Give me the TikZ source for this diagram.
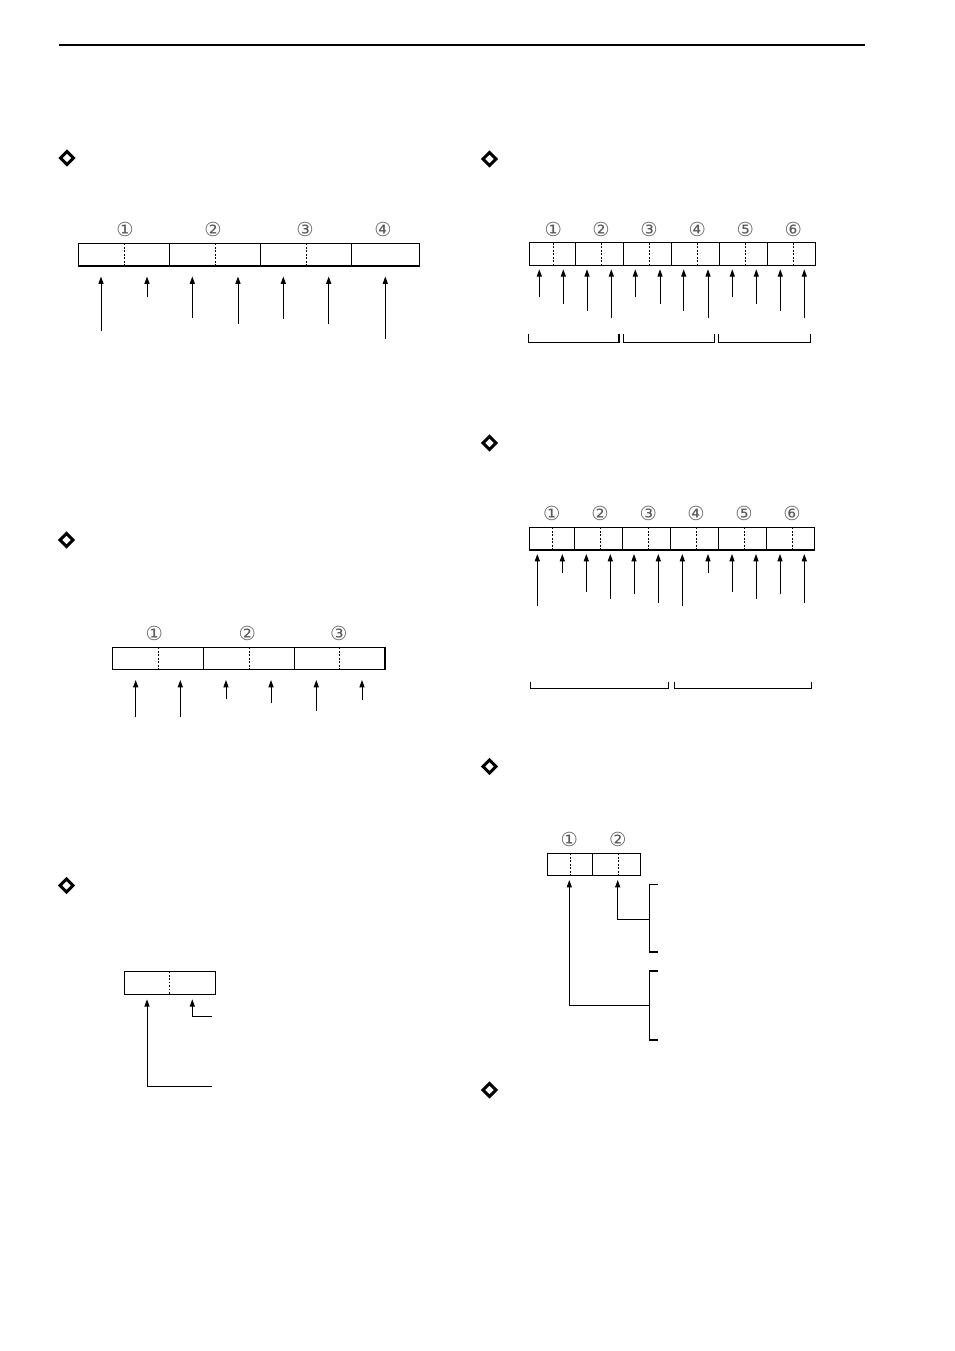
\documentclass[tikz,border=0pt]{standalone}
\usepackage{fontspec}
\newfontfamily\circfont{DejaVu Sans}
\usetikzlibrary{arrows.meta,calc}
\tikzset{
  cellbox/.style={draw, line width=0.8pt, inner sep=0pt, outer sep=0pt},
  dots/.style={line width=0.7pt, dash pattern=on 1.3pt off 1.3pt},
  arr/.style={line width=0.75pt, -{Triangle[length=5.5pt,width=3.8pt]}},
  brk/.style={line width=0.8pt},
  dmd/.style={line width=2.3pt, miter limit=10},
  num/.style={font=\circfont\fontsize{14.5}{15}\selectfont, text=black!65, inner sep=0pt}
}
\newcommand\mkcell[5]{\node[cellbox, minimum width={(#3-#2)*0.75pt}, minimum height={(#5-#4)*0.75pt}] (#1) at ({(#2+#3)/2},{(#4+#5)/2}) {};}
\newcommand\mkdmd[3]{\coordinate (#1) at (#2,#3); \draw[dmd] ($(#1)+(-6.5,0)$) -- ($(#1)+(0,-6.5)$) -- ($(#1)+(6.5,0)$) -- ($(#1)+(0,6.5)$) -- cycle;}
\begin{document}
\begin{tikzpicture}[x=0.75pt,y=-0.75pt]
\useasboundingbox (0,0) rectangle (954,1351);
% header rule
\coordinate (hl) at (59,45); \coordinate (hr) at (865,45);
\draw[line width=0.9pt] (hl) -- (hr);
% diamonds
\mkdmd{d1}{67}{158}
\mkdmd{d2}{489.5}{159}
\mkdmd{d3}{489.5}{443}
\mkdmd{d4}{489.5}{766.5}
\mkdmd{d5}{489.5}{1090}
\mkdmd{d6}{66.5}{540}
\mkdmd{d7}{66.5}{885.5}

% ---------- Diagram A (top left)
\mkcell{A1}{78.5}{169.5}{243.5}{266}
\mkcell{A2}{169.5}{260.5}{243.5}{266}
\mkcell{A3}{260.5}{351.5}{243.5}{266}
\mkcell{A4}{351.5}{419.5}{243.5}{266}
\foreach \n in {1,2,3} \draw[dots] (A\n.north) -- (A\n.south);
\foreach \x/\t [count=\i] in {125/①,213/②,305/③,383/④}
  \node[num] (nA\i) at (\x,229.5) {\t};
\foreach \x/\yb [count=\i] in {101/331.5,147/297,192.3/318,238/324,283.3/319,328.7/324.5,385.3/339}
  { \coordinate (Ab\i) at (\x,\yb); \coordinate (At\i) at (\x,276.5); \draw[arr] (Ab\i) -- (At\i); }

% ---------- Diagram B (top right)
\mkcell{B1}{529.3}{575.3}{242.7}{265.3}
\mkcell{B2}{575.3}{623.3}{242.7}{265.3}
\mkcell{B3}{623.3}{671.3}{242.7}{265.3}
\mkcell{B4}{671.3}{719.3}{242.7}{265.3}
\mkcell{B5}{719.3}{767.3}{242.7}{265.3}
\mkcell{B6}{767.3}{815.3}{242.7}{265.3}
\foreach \x in {553.3,601.5,649.5,697.5,745.5,793.5} \draw[dots] (\x,243) -- (\x,265);
\foreach \x/\t [count=\i] in {553.3/①,601/②,649/③,697.3/④,745.3/⑤,793.3/⑥}
  \node[num] (nB\i) at (\x,229.3) {\t};
\foreach \x/\yb [count=\i] in {539.3/297,563.3/304,587/311,611.3/318,635.3/297,660/304,683.7/311,708/318,732.3/297,756.3/304,780.3/311,804.3/318}
  { \coordinate (Bb\i) at (\x,\yb); \coordinate (Bt\i) at (\x,269.3); \draw[arr] (Bb\i) -- (Bt\i); }
\foreach \a/\b [count=\i] in {528.7/619,623.3/714.3,718.7/810.3}
  { \coordinate (Bk\i a) at (\a,334.3); \coordinate (Bk\i b) at (\b,334.3);
    \draw[brk] (Bk\i a) -- ++(0,8) -| (Bk\i b); }

% ---------- Diagram C (middle right)
\mkcell{C1}{529.3}{574.3}{527.3}{550}
\mkcell{C2}{574.3}{622.3}{527.3}{550}
\mkcell{C3}{622.3}{670.3}{527.3}{550}
\mkcell{C4}{670.3}{718.3}{527.3}{550}
\mkcell{C5}{718.3}{766.3}{527.3}{550}
\mkcell{C6}{766.3}{814.3}{527.3}{550}
\foreach \x in {552.3,600.3,648.3,696.7,744.7,792.3} \draw[dots] (\x,527.5) -- (\x,550);
\foreach \x/\t [count=\i] in {551.7/①,600/②,648.3/③,696/④,744/⑤,792/⑥}
  \node[num] (nC\i) at (\x,513.3) {\t};
\foreach \x/\yb [count=\i] in {537.3/605.7,562.3/572.7,586.3/592,610.3/599,634/594,658.3/603,682.3/605.7,708/572.7,732/592,756/599,780/594,804.3/603}
  { \coordinate (Cb\i) at (\x,\yb); \coordinate (Ct\i) at (\x,554); \draw[arr] (Cb\i) -- (Ct\i); }
\foreach \a/\b [count=\i] in {530.7/668.3,674.3/811.3}
  { \coordinate (Ck\i a) at (\a,681.7); \coordinate (Ck\i b) at (\b,681.7);
    \draw[brk] (Ck\i a) -- ++(0,7) -| (Ck\i b); }

% ---------- Diagram D (bottom right)
\mkcell{D1}{547.3}{592.3}{853.3}{875.3}
\mkcell{D2}{592.3}{640.3}{853.3}{875.3}
\draw[dots] (570,853.5) -- (570,875);
\draw[dots] (618.3,853.5) -- (618.3,875);
\node[num] (nD1) at (569.3,839.3) {①};
\node[num] (nD2) at (617.7,839.3) {②};
\coordinate (Dt2) at (617.7,880); \coordinate (Dh2) at (649.3,919.3);
\coordinate (Dt1) at (569.3,880); \coordinate (Dh1) at (649.3,1005.7);
\draw[arr] (Dh2) -| (Dt2);
\draw[arr] (Dh1) -| (Dt1);
\coordinate (Dk1a) at (657.7,884.3); \coordinate (Dk1b) at (657.7,952);
\coordinate (Dk2a) at (657.7,971); \coordinate (Dk2b) at (657.7,1040);
\draw[brk] (Dk1a) -- ++(-8.4,0) |- (Dk1b);
\draw[brk] (Dk2a) -- ++(-8.4,0) |- (Dk2b);

% ---------- Diagram E (middle left)
\mkcell{E1}{112.3}{203.3}{647.3}{669.3}
\mkcell{E2}{203.3}{294.3}{647.3}{669.3}
\mkcell{E3}{294.3}{385}{647.3}{669.3}
\foreach \x in {158.3,249.3,339.3} \draw[dots] (\x,647.5) -- (\x,669);
\foreach \x/\t [count=\i] in {154.3/①,247.3/②,338.7/③}
  \node[num] (nE\i) at (\x,633.5) {\t};
\foreach \x/\yb [count=\i] in {135.7/717.3,180.3/717.3,226/699.3,271/703.3,316.3/710.7,362/700}
  { \coordinate (Eb\i) at (\x,\yb); \coordinate (Et\i) at (\x,680); \draw[arr] (Eb\i) -- (Et\i); }

% ---------- Diagram F (bottom left)
\mkcell{F1}{124.3}{215.3}{971.3}{994.3}
\draw[dots] (F1.north) -- (F1.south);
\coordinate (Ft1) at (147,999.3); \coordinate (Fh1) at (212,1086);
\coordinate (Ft2) at (192.3,999.3); \coordinate (Fh2) at (212,1016);
\draw[arr] (Fh1) -| (Ft1);
\draw[arr] (Fh2) -| (Ft2);
\end{tikzpicture}
\end{document}
